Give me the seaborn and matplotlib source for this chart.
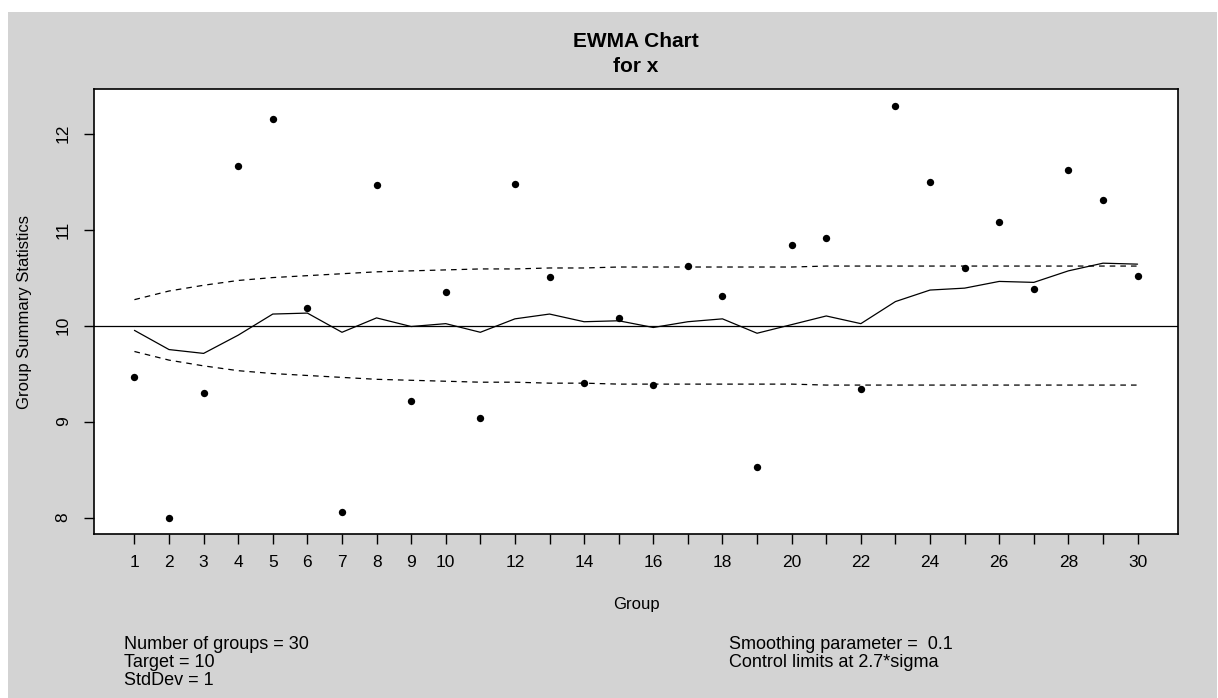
"""
EWMA control chart for x, in the style of an R qcc plot.
"""
import numpy as np
import pandas as pd
import seaborn as sns
import matplotlib.pyplot as plt
from matplotlib.patches import Rectangle


# Group summary statistics (one value per group)
groups = list(range(1, 31))
x_values = [9.46, 8.00, 9.30, 11.66, 12.15, 10.18, 8.06, 11.46, 9.21, 10.35,
            9.04, 11.48, 10.51, 9.40, 10.08, 9.38, 10.62, 10.31, 8.53, 10.84,
            10.91, 9.34, 12.29, 11.50, 10.60, 11.08, 10.38, 11.62, 11.31, 10.52]

# EWMA statistic
ewma_values = [9.95, 9.75, 9.71, 9.90, 10.12, 10.13, 9.93, 10.08, 9.99, 10.02,
               9.93, 10.07, 10.12, 10.04, 10.05, 9.98, 10.04, 10.07, 9.92, 10.01,
               10.10, 10.02, 10.25, 10.37, 10.39, 10.46, 10.45, 10.57, 10.65, 10.64]

# control limits
ucl_values = [10.27, 10.36, 10.42, 10.47, 10.50, 10.52, 10.54, 10.56, 10.57, 10.58,
              10.59, 10.59, 10.60, 10.60, 10.61, 10.61, 10.61, 10.61, 10.61, 10.61,
              10.62, 10.62, 10.62, 10.62, 10.62, 10.62, 10.62, 10.62, 10.62, 10.62]
lcl_values = [9.73, 9.64, 9.58, 9.53, 9.50, 9.48, 9.46, 9.44, 9.43, 9.42,
              9.41, 9.41, 9.40, 9.40, 9.39, 9.39, 9.39, 9.39, 9.39, 9.39,
              9.38, 9.38, 9.38, 9.38, 9.38, 9.38, 9.38, 9.38, 9.38, 9.38]
target = 10

x_tick_labels = ["1", "2", "3", "4", "5", "6", "7", "8", "9", "10",
                 "", "12", "", "14", "", "16", "", "18", "", "20",
                 "", "22", "", "24", "", "26", "", "28", "", "30"]
y_ticks = [8, 9, 10, 11, 12]

left_notes = ["Number of groups = 30", "Target = 10", "StdDev = 1"]
right_notes = ["Smoothing parameter =  0.1", "Control limits at 2.7*sigma"]

df = pd.DataFrame({"group": groups, "x": x_values, "ewma": ewma_values,
                   "ucl": ucl_values, "lcl": lcl_values})

sns.set_style("ticks")
plt.rcParams['font.family'] = ['Liberation Sans', 'DejaVu Sans']
plt.rcParams['text.color'] = 'black'

W, H = 1218, 698
fig = plt.figure(figsize=(W / 100, H / 100), dpi=100, facecolor="white")
# gray device background (image has a thin white margin top/left)
fig.patches.append(Rectangle((8 / W, 0), 1209 / W, 1 - 12 / H,
                             transform=fig.transFigure, facecolor="#d3d3d3",
                             edgecolor="none", zorder=-10))

ax = fig.add_axes([94.3 / W, 1 - 534 / H, 1083.4 / W, 444.7 / H])
ax.set_facecolor("white")

# limits and EWMA line
sns.lineplot(data=df, x="group", y="ucl", ax=ax, color="black", lw=0.9,
             linestyle=(0, (4.5, 4)), sort=False, estimator=None)
sns.lineplot(data=df, x="group", y="lcl", ax=ax, color="black", lw=0.9,
             linestyle=(0, (4.5, 4)), sort=False, estimator=None)
ax.axhline(target, color="black", lw=0.9)
sns.lineplot(data=df, x="group", y="ewma", ax=ax, color="black", lw=0.9,
             sort=False, estimator=None)
sns.scatterplot(data=df, x="group", y="x", ax=ax, color="black", s=28,
                linewidth=0, zorder=5)

# R style 4% range extension
ymin, ymax = min(x_values), max(x_values)
ypad = (ymax - ymin) * 0.04
ax.set_ylim(ymin - ypad, ymax + ypad)
xpad = (groups[-1] - groups[0]) * 0.04
ax.set_xlim(groups[0] - xpad, groups[-1] + xpad)

ax.set_xticks(groups)
ax.set_xticklabels(x_tick_labels)
ax.set_yticks(y_ticks)
ax.set_yticklabels([str(v) for v in y_ticks], rotation=90, va="center")
ax.tick_params(axis="both", direction="out", length=7, width=1.0,
               color="black", labelsize=12.5, labelcolor="black")
ax.tick_params(axis="x", pad=8)
ax.tick_params(axis="y", pad=10)
for sp in ax.spines.values():
    sp.set_visible(True)
    sp.set_color("black")
    sp.set_linewidth(1.2)
ax.set_xlabel("")
ax.set_ylabel("")

# titles and axis labels
cx = (94.3 + 1177.7) / 2 / W
fig.text(cx, 1 - 47 / H, "EWMA Chart", ha="center", va="baseline",
         fontsize=15, fontweight="bold", color="black")
fig.text(cx, 1 - 72 / H, "for x", ha="center", va="baseline",
         fontsize=15, fontweight="bold", color="black")
fig.text(cx, 1 - 605 / H, "Group", ha="center", va="center", fontsize=12,
         color="black")
fig.text(25 / W, 1 - 311.7 / H, "Group Summary Statistics", ha="center",
         va="center", rotation=90, fontsize=12, color="black")

# summary text under the chart
baselines = [649, 667, 685]
for txt, yb in zip(left_notes, baselines):
    fig.text(124 / W, 1 - yb / H, txt, ha="left", va="baseline", fontsize=13,
             color="black")
for txt, yb in zip(right_notes, baselines):
    fig.text(729 / W, 1 - yb / H, txt, ha="left", va="baseline", fontsize=13,
             color="black")

fig.savefig("out.png", dpi=100, facecolor=fig.get_facecolor())
